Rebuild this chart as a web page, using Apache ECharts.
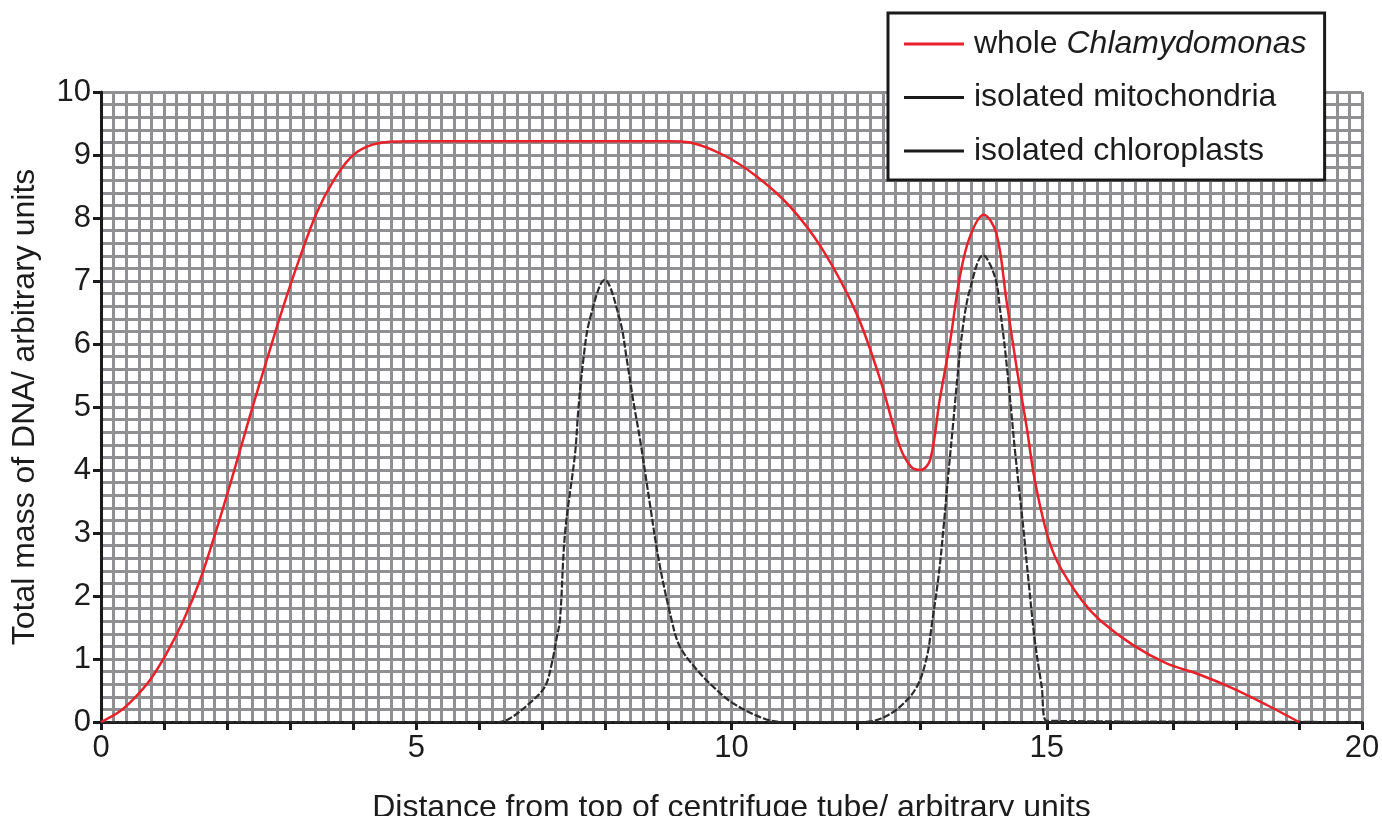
<!DOCTYPE html>
<html>
<head>
<meta charset="utf-8">
<script src="https://cdn.jsdelivr.net/npm/echarts@6/dist/echarts.min.js"></script>
<style>
  html, body { margin: 0; padding: 0; background: #fff; }
  #chart { width: 1382px; height: 816px; }
</style>
</head>
<body>
<div id="chart"></div>
<script>
// values
var seriesNames = ['whole Chlamydomonas', 'isolated mitochondria', 'isolated chloroplasts'];

var wholeX = [0, 0.3, 0.55, 0.78, 1.04, 1.31, 1.57, 1.83, 2.1, 2.36, 2.63, 2.89, 3.16, 3.42, 3.68, 3.95, 4.21, 4.58, 5, 6, 7, 8, 9, 9.34, 9.87, 10.4, 10.93, 11.45, 11.98, 12.36, 12.67, 12.85, 13.0, 13.15, 13.3, 13.47, 13.62, 13.78, 14.0, 14.2, 14.36, 14.52, 14.68, 14.81, 15.0, 15.18, 15.55, 15.84, 16.37, 16.9, 17.43, 17.96, 18.49, 19.0];
var wholeY = [0, 0.17, 0.4, 0.67, 1.09, 1.62, 2.25, 3.05, 3.95, 4.85, 5.75, 6.59, 7.39, 8.08, 8.58, 8.95, 9.13, 9.21, 9.22, 9.22, 9.22, 9.22, 9.22, 9.2, 9.0, 8.66, 8.18, 7.49, 6.49, 5.43, 4.37, 4.05, 4.0, 4.16, 5.1, 6.06, 7.06, 7.7, 8.05, 7.76, 6.7, 5.64, 4.69, 3.84, 3.0, 2.52, 1.94, 1.62, 1.22, 0.93, 0.75, 0.53, 0.27, 0];

var mitoX = [0, 6.3, 6.49, 6.8, 7.04, 7.15, 7.23, 7.28, 7.36, 7.52, 7.57, 7.65, 7.75, 7.99, 8.23, 8.34, 8.44, 8.55, 8.7, 8.85, 9.05, 9.18, 9.45, 9.71, 10.02, 10.5, 10.8, 20];
var mitoY = [0, 0, 0.06, 0.3, 0.56, 0.93, 1.35, 1.62, 3.0, 4.27, 4.95, 5.75, 6.38, 7.02, 6.38, 5.75, 5.11, 4.48, 3.5, 2.55, 1.62, 1.2, 0.83, 0.56, 0.3, 0.06, 0, 0];

var chloroX = [0, 12.1, 12.36, 12.67, 12.94, 13.1, 13.18, 13.29, 13.37, 13.43, 13.51, 13.59, 13.67, 13.78, 13.99, 14.18, 14.26, 14.34, 14.42, 14.5, 14.62, 14.71, 14.81, 14.92, 15.0, 20];
var chloroY = [0, 0, 0.05, 0.24, 0.56, 1.04, 1.57, 2.36, 3.16, 3.84, 4.68, 5.54, 6.27, 6.86, 7.41, 7.06, 6.54, 5.9, 5.11, 4.27, 3.16, 2.25, 1.3, 0.56, 0.02, 0];

var xTickLabels = [0, 5, 10, 15, 20];

function pairs(xs, ys) {
    return xs.map(function (x, i) { return [x, ys[i]]; });
}

var textColor = '#1c1c1c';
var gridColor = '#909092';
var font = 'Liberation Sans, Arial, sans-serif';

var chart = echarts.init(document.getElementById('chart'));

var option = {
    backgroundColor: '#ffffff',
    animation: false,
    textStyle: { fontFamily: font, color: textColor },
    grid: { left: 101, right: 20, top: 92, bottom: 94, outerBoundsMode: 'none', containLabel: false },
    legend: {
        orient: 'vertical',
        left: 888,
        top: 13,
        padding: [15, 18, 13, 16],
        itemGap: 21.5,
        itemWidth: 60,
        itemHeight: 3,
        icon: 'rect',
        backgroundColor: '#ffffff',
        borderColor: '#1a1a1a',
        borderWidth: 3,
        data: seriesNames,
        textStyle: {
            fontFamily: font,
            fontSize: 32,
            color: textColor,
            padding: [0, 0, 0, 5],
            rich: {
                i: { fontFamily: font, fontSize: 32, fontStyle: 'italic', color: textColor }
            }
        },
        formatter: function (name) {
            if (name === seriesNames[0]) return 'whole {i|Chlamydomonas}';
            return name;
        }
    },
    xAxis: {
        type: 'value',
        min: 0,
        max: 20,
        interval: 1,
        name: 'Distance from top of centrifuge tube/ arbitrary units',
        nameLocation: 'middle',
        nameGap: 70,
        nameTextStyle: { fontFamily: font, fontSize: 32, color: textColor },
        axisLine: { show: true, onZero: false, lineStyle: { color: '#1a1a1a', width: 3 } },
        axisTick: { show: true, length: 8, lineStyle: { color: '#1a1a1a', width: 3 } },
        axisLabel: {
            margin: 11,
            fontSize: 31,
            color: textColor,
            formatter: function (v) {
                return xTickLabels.indexOf(v) >= 0 ? String(v) : '';
            }
        },
        splitLine: { show: true, lineStyle: { color: gridColor, width: 3 } },
        minorTick: { show: false, splitNumber: 5 },
        minorSplitLine: { show: true, lineStyle: { color: gridColor, width: 3 } }
    },
    yAxis: {
        type: 'value',
        min: 0,
        max: 10,
        interval: 1,
        name: 'Total mass of DNA/ arbitrary units',
        nameLocation: 'middle',
        nameGap: 60,
        nameTextStyle: { fontFamily: font, fontSize: 32, color: textColor },
        axisLine: { show: true, onZero: false, lineStyle: { color: '#1a1a1a', width: 3 } },
        axisTick: { show: true, length: 8, lineStyle: { color: '#1a1a1a', width: 3 } },
        axisLabel: { margin: 10, fontSize: 31, color: textColor },
        splitLine: { show: true, lineStyle: { color: gridColor, width: 3 } },
        minorTick: { show: false, splitNumber: 5 },
        minorSplitLine: { show: true, lineStyle: { color: gridColor, width: 3 } }
    },
    series: [
        {
            name: seriesNames[1],
            type: 'line',
            data: pairs(mitoX, mitoY),
            showSymbol: false,
            smooth: 0.35,
            itemStyle: { color: '#1a1a1a' },
            lineStyle: { color: '#2b2b2b', width: 2.2, type: [7, 2] },
            z: 2
        },
        {
            name: seriesNames[2],
            type: 'line',
            data: pairs(chloroX, chloroY),
            showSymbol: false,
            smooth: 0.35,
            itemStyle: { color: '#1a1a1a' },
            lineStyle: { color: '#2b2b2b', width: 2.2, type: [7, 2] },
            z: 2
        },
        {
            name: seriesNames[0],
            type: 'line',
            data: pairs(wholeX, wholeY),
            showSymbol: false,
            smooth: 0.35,
            itemStyle: { color: '#e8212b' },
            lineStyle: { color: '#e8212b', width: 2.5 },
            z: 3
        }
    ]
};

chart.setOption(option);
</script>
</body>
</html>
